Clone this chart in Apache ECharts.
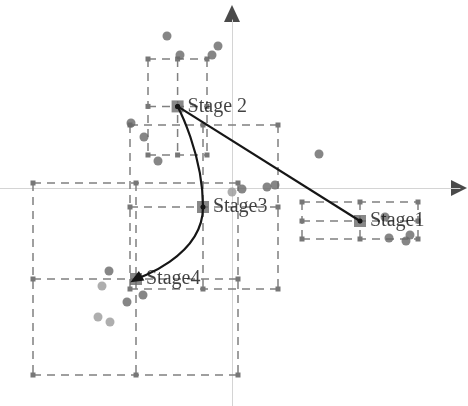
<!DOCTYPE html>
<html>
<head>
<meta charset="utf-8">
<script src="https://cdn.jsdelivr.net/npm/echarts@6/dist/echarts.min.js"></script>
<style>
  html, body { margin: 0; padding: 0; background: #fff; }
  #chart { width: 468px; height: 406px; }
</style>
</head>
<body>
<div id="chart"></div>
<script>
// stage centroids and their ranges
const stageNames = ['Stage1', 'Stage 2', 'Stage3', 'Stage4'];
const centerX = [3.2, -1.36, -0.725, -2.4];
const centerY = [-0.825, 2.04, -0.475, -2.275];
const rangeXMin = [1.75, -2.1, -2.55, -4.975];
const rangeXMax = [4.65, -0.625, 1.15, 0.15];
const rangeYMin = [-1.275, 0.825, -2.525, -4.675];
const rangeYMax = [-0.35, 3.225, 1.575, 0.125];

// individual samples
const darkX = [-1.625, -1.3, -0.5, -0.35, -2.525, -2.2, -1.85, 2.175, 3.925, 4.35, 4.45, 3.825, 0.25, 0.875, 1.075, -3.075, -2.225, -2.625];
const darkY = [3.8, 3.325, 3.325, 3.55, 1.625, 1.275, 0.675, 0.85, -1.25, -1.325, -1.175, -0.725, -0.025, 0.025, 0.075, -2.075, -2.675, -2.85];
const lightX = [0, -3.25, -3.35, -3.05];
const lightY = [-0.1, -2.45, -3.225, -3.35];

const chart = echarts.init(document.getElementById('chart'));

const pairs = (xs, ys) => xs.map((x, i) => [x, ys[i]]);
const stagePts = pairs(centerX, centerY);

const boxData = stageNames.map((n, i) => [centerX[i], centerY[i], rangeXMin[i], rangeXMax[i], rangeYMin[i], rangeYMax[i]]);

function renderBox(params, api) {
  const c = api.coord([api.value(0), api.value(1)]);
  const lo = api.coord([api.value(2), api.value(4)]);
  const hi = api.coord([api.value(3), api.value(5)]);
  const x0 = lo[0], x1 = hi[0], y0 = hi[1], y1 = lo[1];
  const segs = [
    [x0, y0, x1, y0], [x0, y1, x1, y1],
    [x0, y0, x0, y1], [x1, y0, x1, y1],
    [x0, c[1], x1, c[1]], [c[0], y0, c[0], y1]
  ];
  const children = segs.map(s => ({
    type: 'line',
    shape: { x1: s[0], y1: s[1], x2: s[2], y2: s[3] },
    style: { stroke: '#808080', lineWidth: 1.5, lineDash: [8, 6] }
  }));
  [x0, c[0], x1].forEach(px => {
    [y0, c[1], y1].forEach(py => {
      if (px === c[0] && py === c[1]) return;
      children.push({
        type: 'rect',
        shape: { x: px - 2.5, y: py - 2.5, width: 5, height: 5 },
        style: { fill: '#777' }
      });
    });
  });
  return { type: 'group', children };
}

const option = {
  animation: false,
  grid: { left: 0, right: 8, top: 20, bottom: 0 },
  xAxis: {
    type: 'value', min: -5.8, max: 5.7,
    axisLine: { onZero: true, lineStyle: { color: '#d4d4d4', width: 1 } },
    axisTick: { show: false }, axisLabel: { show: false }, splitLine: { show: false }
  },
  yAxis: {
    type: 'value', min: -5.45, max: 4.2,
    axisLine: { onZero: true, lineStyle: { color: '#d4d4d4', width: 1 } },
    axisTick: { show: false }, axisLabel: { show: false }, splitLine: { show: false }
  },
  series: [
    {
      type: 'custom',
      renderItem: renderBox,
      data: boxData,
      z: 1,
      silent: true
    },
    {
      type: 'scatter',
      data: pairs(darkX, darkY),
      symbolSize: 9,
      itemStyle: { color: '#686868' },
      z: 2
    },
    {
      type: 'scatter',
      data: pairs(lightX, lightY),
      symbolSize: 9,
      itemStyle: { color: '#9a9a9a' },
      z: 2
    },
    {
      type: 'scatter',
      data: stagePts,
      symbol: 'rect',
      symbolSize: 12,
      itemStyle: { color: '#6a6a6a' },
      label: {
        show: true,
        position: 'right',
        distance: 4,
        formatter: p => stageNames[p.dataIndex],
        fontFamily: 'Liberation Serif',
        fontSize: 20,
        color: '#111'
      },
      z: 3
    },
    {
      type: 'line',
      data: stagePts.slice(0, 2),
      symbol: 'circle',
      symbolSize: 5,
      showSymbol: true,
      lineStyle: { color: '#161616', width: 2.2 },
      itemStyle: { color: '#161616' },
      z: 4
    },
    {
      type: 'line',
      smooth: 0.6,
      data: stagePts.slice(1).map((p, i, arr) => i === arr.length - 1
        ? { value: p, symbol: 'triangle', symbolSize: [11, 13], symbolRotate: 120 }
        : { value: p }),
      symbol: 'circle',
      symbolSize: 5,
      showSymbol: true,
      lineStyle: { color: '#161616', width: 2.2 },
      itemStyle: { color: '#161616' },
      z: 4
    }
  ]
};

chart.setOption(option);

// axis arrow heads, placed from the grid's own origin
const o = chart.convertToPixel({ gridIndex: 0 }, [0, 0]);
chart.setOption({
  graphic: [
    {
      type: 'polygon',
      shape: { points: [[o[0], 5], [o[0] - 8, 22], [o[0] + 8, 22]] },
      style: { fill: '#4a4a4a' }
    },
    {
      type: 'polygon',
      shape: { points: [[467, o[1]], [451, o[1] - 8], [451, o[1] + 8]] },
      style: { fill: '#4a4a4a' }
    }
  ]
});
</script>
</body>
</html>
